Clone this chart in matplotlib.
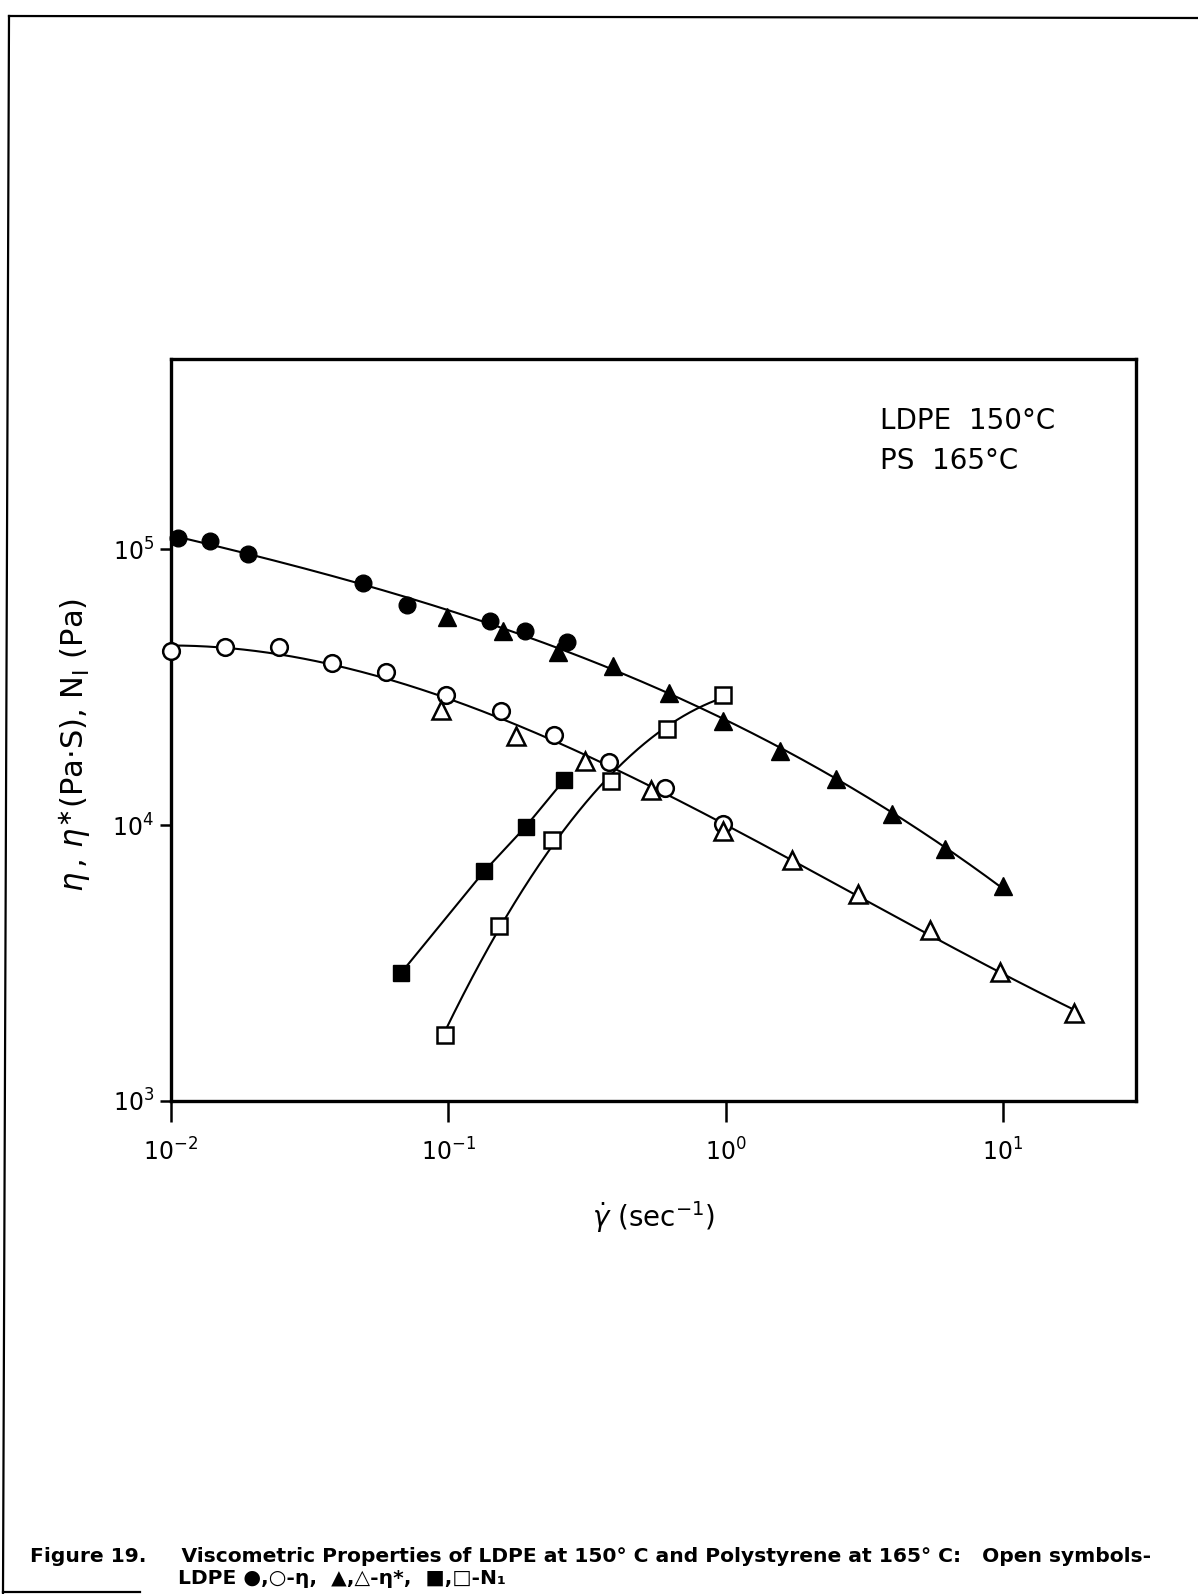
import numpy as np
import matplotlib
matplotlib.use("Agg")
import matplotlib.pyplot as plt
from matplotlib.ticker import LogLocator, LogFormatterMathtext, NullLocator

# LDPE 150 C: steady shear viscosity (filled circles)
ldpe_eta_rate = [0.0106, 0.0138, 0.019, 0.0493, 0.071, 0.1416, 0.189, 0.267]
ldpe_eta = [1.10e5, 1.07e5, 9.6e4, 7.55e4, 6.3e4, 5.5e4, 5.07e4, 4.62e4]
# LDPE 150 C: complex viscosity (filled triangles)
ldpe_etastar_freq = [0.0993, 0.158, 0.249, 0.391, 0.627, 0.98, 1.57, 2.5, 3.98, 6.2, 9.98]
ldpe_etastar = [5.7e4, 5.07e4, 4.25e4, 3.77e4, 3.02e4, 2.39e4, 1.86e4, 1.47e4, 1.10e4, 8.2e3, 6.03e3]
# LDPE 150 C: first normal stress difference (filled squares)
ldpe_n1_rate = [0.0675, 0.1346, 0.19, 0.262]
ldpe_n1 = [2.91e3, 6.8e3, 9.87e3, 1.46e4]

# PS 165 C: steady shear viscosity (open circles)
ps_eta_rate = [0.01, 0.0156, 0.0246, 0.038, 0.0598, 0.098, 0.155, 0.241, 0.38, 0.605, 0.98]
ps_eta = [4.28e4, 4.43e4, 4.43e4, 3.86e4, 3.58e4, 2.97e4, 2.6e4, 2.12e4, 1.70e4, 1.36e4, 1.01e4]
# PS 165 C: complex viscosity (open triangles)
ps_etastar_freq = [0.0945, 0.175, 0.311, 0.538, 0.98, 1.74, 3.01, 5.44, 9.75, 18.0]
ps_etastar = [2.62e4, 2.1e4, 1.71e4, 1.34e4, 9.55e3, 7.5e3, 5.64e3, 4.16e3, 2.94e3, 2.09e3]
# PS 165 C: first normal stress difference (open squares)
ps_n1_rate = [0.097, 0.152, 0.237, 0.387, 0.617, 0.975]
ps_n1 = [1.73e3, 4.3e3, 8.85e3, 1.45e4, 2.23e4, 2.97e4]

W, H, DPI = 1198, 1594, 100
fig = plt.figure(figsize=(W / DPI, H / DPI), dpi=DPI)
fig.patch.set_facecolor("white")

ax = fig.add_axes([171 / W, 1 - 1101 / H, (1136 - 171) / W, (1101 - 359) / H])
ax.set_xscale("log")
ax.set_yscale("log")
ax.set_xlim(1e-2, 10 ** 1.48)
ax.set_ylim(1e3, 10 ** 5.69)

for s in ax.spines.values():
    s.set_linewidth(2.4)


def smooth_fit(xs, ys, deg, x0=None, x1=None):
    lx, ly = np.log10(xs), np.log10(ys)
    c = np.polyfit(lx, ly, deg)
    g = np.linspace(lx.min() if x0 is None else np.log10(x0),
                    lx.max() if x1 is None else np.log10(x1), 300)
    return 10 ** g, 10 ** np.polyval(c, g)


lw = 1.5
# Fitted master curves through steady and dynamic viscosities
lx = np.array(ldpe_eta_rate + ldpe_etastar_freq)
ly = np.array(ldpe_eta + ldpe_etastar)
fx, fy = smooth_fit(lx, ly, 3, 0.01, max(ldpe_etastar_freq))
ax.plot(fx, fy, color="black", lw=lw, zorder=2)

px = np.array(ps_eta_rate + ps_etastar_freq)
py = np.array(ps_eta + ps_etastar)
fx, fy = smooth_fit(px, py, 3, 0.01, max(ps_etastar_freq))
ax.plot(fx, fy, color="black", lw=lw, zorder=2)

# Normal stress curves
ax.plot(ldpe_n1_rate, ldpe_n1, color="black", lw=lw, zorder=2)
fx, fy = smooth_fit(np.array(ps_n1_rate), np.array(ps_n1), 2)
ax.plot(fx, fy, color="black", lw=lw, zorder=2)

mk = dict(linestyle="none", color="black", clip_on=False, zorder=3)
ax.plot(ldpe_eta_rate, ldpe_eta, marker="o", ms=12, mfc="black", **mk)
ax.plot(ldpe_etastar_freq, ldpe_etastar, marker="^", ms=13, mfc="black", **mk)
ax.plot(ldpe_n1_rate, ldpe_n1, marker="s", ms=11, mfc="black", **mk)
ax.plot(ps_eta_rate, ps_eta, marker="o", ms=12, mfc="white", mew=1.8, **mk)
ax.plot(ps_etastar_freq, ps_etastar, marker="^", ms=13, mfc="white", mew=1.8, **mk)
ax.plot(ps_n1_rate, ps_n1, marker="s", ms=11, mfc="white", mew=1.8, **mk)

ax.xaxis.set_major_locator(LogLocator(base=10, numticks=10))
ax.yaxis.set_major_locator(LogLocator(base=10, numticks=10))
ax.xaxis.set_minor_locator(NullLocator())
ax.yaxis.set_minor_locator(NullLocator())
ax.xaxis.set_major_formatter(LogFormatterMathtext())
ax.yaxis.set_major_formatter(LogFormatterMathtext())
ax.tick_params(axis="x", direction="out", length=15, width=1.8, pad=12, labelsize=17)
ax.tick_params(axis="y", direction="out", length=8, width=1.8, pad=4, labelsize=17)

ax.text(0.735, 0.935, "LDPE  150°C", transform=ax.transAxes, fontsize=20, va="top")
ax.text(0.735, 0.882, "PS  165°C", transform=ax.transAxes, fontsize=20, va="top")

ax.set_xlabel(r"$\dot{\gamma}$ (sec$^{-1}$)", fontsize=20, labelpad=24)
fig.text(75 / W, 1 - 745 / H,
         r"$\eta\,,\,\eta^{\ast}$(Pa$\cdot$S), N$_{\mathrm{I}}$ (Pa)",
         rotation=90, fontsize=22, ha="center", va="center")

# Page frame
fig.add_artist(plt.Line2D([9 / W, 3 / W], [1 - 16 / H, 1 - 1593 / H], color="black", lw=1.6))
fig.add_artist(plt.Line2D([9 / W, 1], [1 - 16 / H, 1 - 18 / H], color="black", lw=1.6))
fig.add_artist(plt.Line2D([3 / W, 140 / W], [1 - 1592 / H, 1 - 1592 / H], color="black", lw=1.6))

cap_font = ["DejaVu Sans"]
fig.text(30 / W, 1 - 1562 / H,
         "Figure 19.     Viscometric Properties of LDPE at 150° C and Polystyrene at 165° C:   Open symbols-",
         fontsize=14.6, fontweight="bold", family=cap_font, va="baseline")
fig.text(178 / W, 1 - 1584 / H,
         "LDPE ●,○-η,  ▲,△-η*,  ■,□-N₁",
         fontsize=14.6, fontweight="bold", family=cap_font, va="baseline")

fig.savefig("out.png", dpi=DPI, facecolor="white")
